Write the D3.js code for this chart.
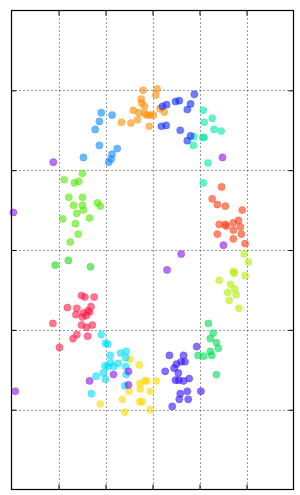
<!DOCTYPE html>
<html>
<head>
<meta charset="utf-8">
<script src="https://cdn.jsdelivr.net/npm/d3@7"></script>
<style>
  html, body { margin: 0; padding: 0; background: #fff; }
  svg { display: block; }
</style>
</head>
<body>
<div id="chart"></div>
<script>
// ---- DATA (x, y in data units) ----
const gridTicks = [-2, -1, 0, 1, 2];

const clusterOrange = [[-0.20,2.00],[0.10,2.02],[0.07,1.94],[-0.24,1.89],[-0.23,1.84],[-0.17,1.80],[-0.41,1.75],[-0.29,1.72],[-0.17,1.71],[-0.12,1.69],[-0.05,1.69],[0.02,1.69],[0.16,1.77],[0.25,1.73],[-0.32,1.63],[-0.46,1.59],[-0.66,1.60],[-0.07,1.55]];
const clusterBlue = [[0.89,1.95],[0.49,1.86],[0.57,1.87],[0.81,1.83],[0.74,1.76],[0.21,1.80],[0.30,1.82],[0.19,1.55],[0.29,1.56],[0.59,1.50],[0.81,1.43],[0.74,1.37]];
const clusterTurquoise = [[1.08,1.75],[1.27,1.65],[1.10,1.60],[1.31,1.51],[1.46,1.49],[0.88,1.42],[1.07,1.41],[1.10,1.41],[0.87,1.31],[1.18,1.09],[1.08,0.84]];
const clusterSkyBlue = [[-1.09,1.72],[-0.86,1.69],[-1.13,1.61],[-1.22,1.51],[-1.13,1.31],[-0.75,1.27],[-0.86,1.20],[-0.88,1.14],[-0.93,1.10],[-1.47,1.16]];
const clusterLime = [[-1.49,0.96],[-1.88,0.88],[-1.66,0.84],[-1.57,0.86],[-1.78,0.66],[-1.49,0.66],[-1.68,0.56],[-1.49,0.56],[-1.47,0.50],[-1.61,0.46],[-1.17,0.59],[-1.11,0.55],[-1.91,0.39],[-1.34,0.40],[-1.64,0.33],[-1.58,0.20],[-1.75,0.10]];
const clusterGreen = [[-1.79,-0.13],[-2.07,-0.19],[-1.32,-0.21]];
const clusterRed = [[-1.51,-0.57],[-1.44,-0.59],[-1.24,-0.59],[-1.81,-0.72],[-1.61,-0.73],[-1.31,-0.71],[-1.37,-0.76],[-1.63,-0.81],[-1.47,-0.79],[-1.41,-0.82],[-1.34,-0.78],[-1.49,-0.84],[-2.12,-0.92],[-1.51,-0.94],[-1.40,-0.97],[-1.28,-0.94],[-1.61,-1.06],[-1.69,-1.11],[-1.38,-1.08],[-1.98,-1.22]];
const clusterCyan = [[-1.09,-1.06],[-1.00,-1.17],[-0.95,-1.18],[-0.90,-1.32],[-0.68,-1.29],[-0.56,-1.27],[-0.57,-1.35],[-0.89,-1.41],[-0.73,-1.42],[-1.01,-1.45],[-0.83,-1.46],[-0.95,-1.46],[-1.05,-1.54],[-1.20,-1.58],[-1.00,-1.62],[-0.57,-1.46],[-0.56,-1.56],[-0.59,-1.70],[-1.30,-1.80]];
const clusterYellow = [[-0.48,-1.37],[-0.28,-1.44],[0.08,-1.64],[-0.17,-1.64],[-0.12,-1.64],[-0.27,-1.67],[-0.26,-1.74],[-0.50,-1.77],[-0.05,-1.77],[-0.64,-1.87],[-0.27,-1.90],[-0.22,-1.90],[-1.11,-1.93],[-0.05,-2.00],[-0.59,-2.03]];
const clusterIndigo = [[0.94,-1.21],[0.36,-1.32],[0.66,-1.32],[0.61,-1.40],[0.69,-1.40],[0.51,-1.43],[0.46,-1.48],[0.27,-1.52],[0.55,-1.54],[0.78,-1.61],[0.49,-1.63],[0.56,-1.63],[0.66,-1.64],[1.03,-1.77],[0.74,-1.77],[0.59,-1.80],[0.57,-1.87],[0.76,-1.87],[0.42,-1.96]];
const clusterSpring = [[1.29,-1.04],[1.23,-1.11],[1.36,-1.16],[1.40,-1.23],[1.23,-1.27],[0.97,-1.32],[1.09,-1.33],[1.26,-1.32],[1.36,-1.56],[1.19,-0.92]];
const clusterChartreuse = [[1.95,-0.05],[2.04,-0.15],[1.97,-0.32],[1.72,-0.27],[1.74,-0.29],[1.42,-0.38],[1.66,-0.43],[1.75,-0.49],[1.60,-0.53],[1.78,-0.56],[1.63,-0.63],[1.84,-0.73]];
const clusterVermilion = [[1.47,0.79],[1.27,0.64],[1.38,0.57],[1.55,0.55],[1.91,0.50],[1.83,0.37],[1.72,0.34],[1.42,0.32],[1.55,0.32],[1.57,0.30],[1.87,0.29],[1.72,0.25],[1.38,0.20],[1.89,0.20],[1.72,0.14],[1.97,0.08]];
const noise = [[-2.11,1.10],[1.49,1.16],[-2.96,0.47],[1.51,0.06],[0.61,-0.05],[0.31,-0.25],[-2.92,-1.77],[-1.34,-1.64],[-0.83,-1.56],[-0.51,-1.52],[-0.51,-1.69]];

// ---- STYLE ----
const series = [
  { pts: clusterRed,        color: "#ff1a45" },
  { pts: clusterVermilion,  color: "#ff3a10" },
  { pts: clusterOrange,     color: "#ff8c05" },
  { pts: clusterYellow,     color: "#ffd800" },
  { pts: clusterChartreuse, color: "#b0ee00" },
  { pts: clusterLime,       color: "#52e800" },
  { pts: clusterGreen,      color: "#10dc10" },
  { pts: clusterSpring,     color: "#00dc55" },
  { pts: clusterTurquoise,  color: "#00eaa5" },
  { pts: clusterCyan,       color: "#00dcff" },
  { pts: clusterSkyBlue,    color: "#0a88ff" },
  { pts: clusterBlue,       color: "#0a2aff" },
  { pts: clusterIndigo,     color: "#3210ff" },
  { pts: noise,             color: "#8a10ea" }
];

const W = 300, H = 495;
const pLeft = 11.5, pRight = 293.5, pTop = 10.5, pBottom = 489.5;

const svg = d3.select("#chart").append("svg").attr("width", W).attr("height", H);

const x = d3.scaleLinear().domain([-3, 3]).range([pLeft, pRight]);
const y = d3.scaleLinear().domain([-3, 3]).range([pBottom, pTop]);

// grid
const grid = svg.append("g");
grid.selectAll("line.vx").data(gridTicks).enter().append("line")
  .attr("x1", d => Math.round(x(d)) + 0.5).attr("x2", d => Math.round(x(d)) + 0.5)
  .attr("y1", pTop).attr("y2", pBottom)
  .attr("stroke", "#000").attr("stroke-width", 0.8).attr("stroke-dasharray", "1,3");
grid.selectAll("line.hy").data(gridTicks).enter().append("line")
  .attr("y1", d => Math.round(y(d)) + 0.5).attr("y2", d => Math.round(y(d)) + 0.5)
  .attr("x1", pLeft).attr("x2", pRight)
  .attr("stroke", "#000").attr("stroke-width", 0.8).attr("stroke-dasharray", "1,3");

// points
series.forEach(s => {
  svg.append("g").selectAll("circle").data(s.pts).enter().append("circle")
    .attr("cx", d => x(d[0])).attr("cy", d => y(d[1]))
    .attr("r", 3.6)
    .attr("fill", s.color).attr("fill-opacity", 0.6)
    .attr("stroke", s.color).attr("stroke-opacity", 0.6).attr("stroke-width", 0.5);
});

// axes with inward ticks, no labels
const tickLen = 5;
const axB = d3.axisBottom(x).tickValues(gridTicks).tickSize(-tickLen).tickFormat("");
const axT = d3.axisTop(x).tickValues(gridTicks).tickSize(-tickLen).tickFormat("");
const axL = d3.axisLeft(y).tickValues(gridTicks).tickSize(-tickLen).tickFormat("");
const axR = d3.axisRight(y).tickValues(gridTicks).tickSize(-tickLen).tickFormat("");
[[axB, `translate(0,${pBottom})`], [axT, `translate(0,${pTop})`], [axL, `translate(${pLeft},0)`], [axR, `translate(${pRight},0)`]]
  .forEach(([ax, tr]) => {
    const g = svg.append("g").attr("transform", tr).call(ax);
    g.select(".domain").remove();
    g.selectAll(".tick line").attr("stroke", "#000").attr("stroke-width", 1);
  });

// frame
svg.append("rect").attr("x", pLeft).attr("y", pTop)
  .attr("width", pRight - pLeft).attr("height", pBottom - pTop)
  .attr("fill", "none").attr("stroke", "#000").attr("stroke-width", 1.2);
</script>
</body>
</html>
